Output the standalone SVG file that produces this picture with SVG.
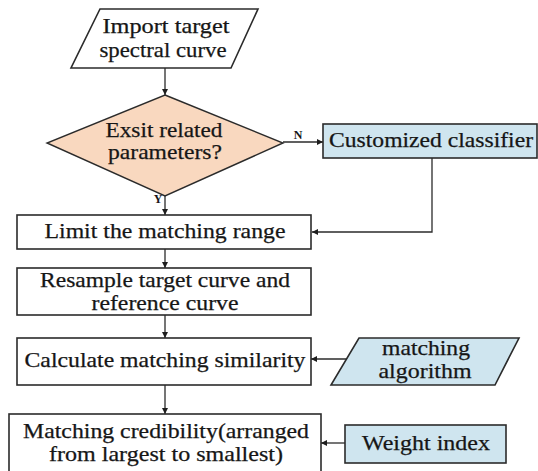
<svg xmlns="http://www.w3.org/2000/svg" width="538" height="471" viewBox="0 0 538 471" font-family="Liberation Serif, Times New Roman, serif">
  <defs>
    <marker id="arrow" viewBox="0 0 10 10" refX="10" refY="5" markerWidth="7" markerHeight="6" markerUnits="userSpaceOnUse" orient="auto">
      <path d="M0,0 L10,5 L0,10 z" fill="#1e1e1e"/>
    </marker>
    <style>
      .box { fill: #ffffff; stroke: #2b2b2b; stroke-width: 1.6; }
      .blue { fill: #cfe5ef; stroke: #2b2b2b; stroke-width: 1.6; }
      .peach { fill: #f9d8bf; stroke: #2b2b2b; stroke-width: 1.4; }
      .link { fill: none; stroke: #2b2b2b; stroke-width: 1.3; marker-end: url(#arrow); }
      text { font-size: 21px; fill: #161616; stroke: #161616; stroke-width: 0.25; text-anchor: middle; }
      .lbl { font-size: 12px; font-weight: bold; stroke: none; }
    </style>
  </defs>
  <rect width="538" height="471" fill="#ffffff"/>

  <!-- connectors -->
  <g id="connectors">
    <line class="link" x1="165" y1="68" x2="165" y2="95"/>
    <line class="link" x1="165" y1="196" x2="165" y2="215"/>
    <line class="link" x1="283" y1="142" x2="323" y2="142"/>
    <polyline class="link" points="432,158 432,232 312,232"/>
    <line class="link" x1="165" y1="249" x2="165" y2="268"/>
    <line class="link" x1="165" y1="315" x2="165" y2="338"/>
    <line class="link" x1="346" y1="359" x2="311" y2="359"/>
    <line class="link" x1="165" y1="385" x2="165" y2="414"/>
    <line class="link" x1="345" y1="443" x2="321" y2="443"/>
    <text class="lbl" x="158" y="203">Y</text>
    <text class="lbl" x="298" y="139">N</text>
  </g>

  <g id="import">
    <polygon class="box" points="100,9 258,9 231,68 71,68"/>
    <text x="166" y="33" textLength="127" lengthAdjust="spacingAndGlyphs">Import target</text>
    <text x="163" y="57" textLength="127" lengthAdjust="spacingAndGlyphs">spectral curve</text>
  </g>

  <g id="decision">
    <polygon class="peach" points="165,95 283,143 165,196 47,143"/>
    <text x="164" y="137" textLength="117" lengthAdjust="spacingAndGlyphs">Exsit related</text>
    <text x="165" y="159" textLength="114" lengthAdjust="spacingAndGlyphs">parameters?</text>
  </g>

  <g id="classifier">
    <rect class="blue" x="323" y="124" width="214" height="34"/>
    <text x="431" y="147" textLength="204" lengthAdjust="spacingAndGlyphs">Customized classifier</text>
  </g>

  <g id="limit">
    <rect class="box" x="17" y="215" width="294" height="34"/>
    <text x="165" y="238" textLength="241" lengthAdjust="spacingAndGlyphs">Limit the matching range</text>
  </g>

  <g id="resample">
    <rect class="box" x="17" y="268" width="294" height="47"/>
    <text x="165" y="287" textLength="250" lengthAdjust="spacingAndGlyphs">Resample target curve and</text>
    <text x="165" y="310" textLength="147" lengthAdjust="spacingAndGlyphs">reference curve</text>
  </g>

  <g id="calculate">
    <rect class="box" x="17" y="338" width="294" height="47"/>
    <text x="165" y="367" textLength="281" lengthAdjust="spacingAndGlyphs">Calculate matching similarity</text>
  </g>

  <g id="algorithm">
    <polygon class="blue" points="359,338 519,338 495,385 331,385"/>
    <text x="426" y="355" textLength="88" lengthAdjust="spacingAndGlyphs">matching</text>
    <text x="425" y="378" textLength="93" lengthAdjust="spacingAndGlyphs">algorithm</text>
  </g>

  <g id="credibility">
    <rect class="box" x="9" y="414" width="312" height="60"/>
    <text x="166" y="438" textLength="286" lengthAdjust="spacingAndGlyphs">Matching credibility(arranged</text>
    <text x="166" y="461" textLength="234" lengthAdjust="spacingAndGlyphs">from largest to smallest)</text>
  </g>

  <g id="weight">
    <rect class="blue" x="345" y="425" width="161" height="38"/>
    <text x="426" y="450" textLength="128" lengthAdjust="spacingAndGlyphs">Weight index</text>
  </g>
</svg>
